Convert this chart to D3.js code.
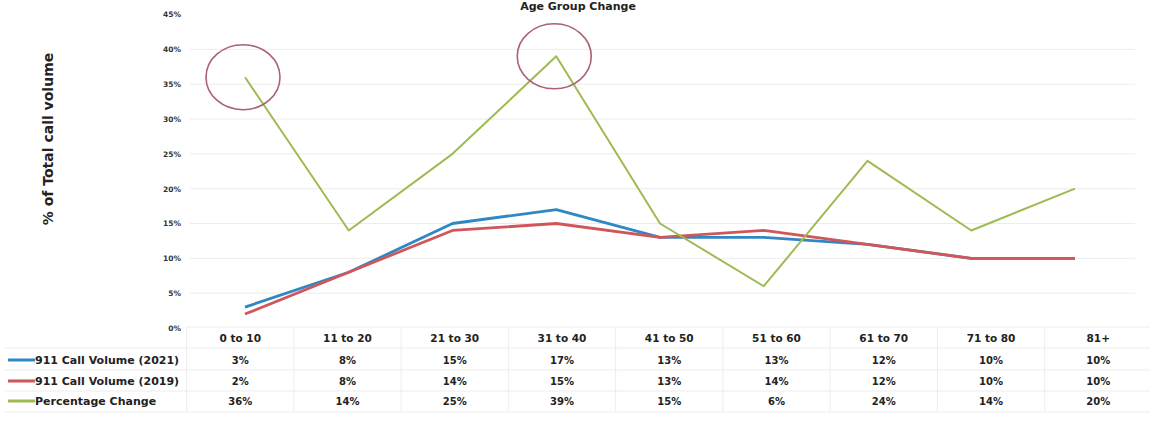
<!DOCTYPE html>
<html>
<head>
<meta charset="utf-8">
<script src="https://cdn.jsdelivr.net/npm/d3@7"></script>
<style>
  html, body { margin: 0; padding: 0; background: #fff; }
  svg { display: block; }
  text { font-family: "DejaVu Sans", "Liberation Sans", Arial, sans-serif; font-weight: bold; }
</style>
</head>
<body>
<svg id="chart" width="1150" height="421"></svg>
<script>
// Age groups shown along the x axis and in the data table
const categories = ["0 to 10", "11 to 20", "21 to 30", "31 to 40", "41 to 50", "51 to 60", "61 to 70", "71 to 80", "81+"];

// Share of total 911 call volume per age group (%)
const volume2021 = [3, 8, 15, 17, 13, 13, 12, 10, 10];
const volume2019 = [2, 8, 14, 15, 13, 14, 12, 10, 10];
const percentChange = [36, 14, 25, 39, 15, 6, 24, 14, 20];

const seriesNames = ["911 Call Volume (2021)", "911 Call Volume (2019)", "Percentage Change"];
const yTicks = [0, 5, 10, 15, 20, 25, 30, 35, 40, 45];

// Age groups singled out with a circle
const highlighted = ["0 to 10", "31 to 40"];

const colors = ["#2f87c4", "#d0565a", "#9dbb52"];
const series = [volume2021, volume2019, percentChange];

const svg = d3.select("#chart");

const x = d3.scalePoint().domain(categories).range([245, 1075]);
const y = d3.scaleLinear().domain([0, 45]).range([328, 14.5]);

// Title along the top edge
svg.append("text")
  .attr("x", 578).attr("y", 10)
  .attr("text-anchor", "middle")
  .attr("font-size", 11)
  .attr("fill", "#222")
  .text("Age Group Change");

// Horizontal gridlines
svg.append("g")
  .selectAll("line")
  .data(yTicks.filter(d => d > 0 && d < 45))
  .join("line")
  .attr("x1", 190).attr("x2", 1135)
  .attr("y1", d => y(d)).attr("y2", d => y(d))
  .attr("stroke", "#ececec").attr("stroke-width", 1);

// Y axis tick labels
const yAxis = d3.axisLeft(y).tickValues(yTicks).tickFormat(d => d + "%").tickSize(0).tickPadding(0);
const yg = svg.append("g").attr("transform", "translate(181,0)").call(yAxis);
yg.select(".domain").remove();
yg.selectAll("text")
  .attr("font-size", 7.5)
  .attr("fill", "#333")
  .style("font-family", "'DejaVu Sans', Arial, sans-serif")
  .style("font-weight", "bold");

// Y axis title
svg.append("text")
  .attr("transform", "translate(53,139) rotate(-90)")
  .attr("text-anchor", "middle")
  .attr("font-size", 14)
  .attr("fill", "#222")
  .text("% of Total call volume");

// Series lines
const line = d3.line()
  .x((d, i) => x(categories[i]))
  .y(d => y(d));

svg.append("g")
  .selectAll("path")
  .data(series)
  .join("path")
  .attr("d", d => line(d))
  .attr("fill", "none")
  .attr("stroke", (d, i) => colors[i])
  .attr("stroke-width", (d, i) => i === 2 ? 2 : 2.8)
  .attr("stroke-linejoin", "round");

// Highlight circles around the first two peaks of the change series
svg.append("g")
  .selectAll("ellipse")
  .data(highlighted)
  .join("ellipse")
  .attr("cx", d => x(d) - 2)
  .attr("cy", d => y(percentChange[categories.indexOf(d)]))
  .attr("rx", 37)
  .attr("ry", 32.5)
  .attr("fill", "none")
  .attr("stroke", "#a9626f")
  .attr("stroke-width", 1.6);

// Data table below the plot
const col = d3.scaleBand().domain(categories).range([186.6, 1151.9]);
const rowY = [338, 360, 381, 401];
const table = svg.append("g");

// Faint table grid
const hLines = [327, 348, 370, 391, 412];
table.selectAll("line.h")
  .data(hLines)
  .join("line")
  .attr("class", "h")
  .attr("x1", d => d === 327 ? 186 : 5).attr("x2", 1150)
  .attr("y1", d => d).attr("y2", d => d)
  .attr("stroke", "#ededed");
table.selectAll("line.v")
  .data(categories)
  .join("line")
  .attr("class", "v")
  .attr("x1", d => col(d)).attr("x2", d => col(d))
  .attr("y1", 327).attr("y2", 412)
  .attr("stroke", "#ededed");

// Category header row
table.selectAll("text.cat")
  .data(categories)
  .join("text")
  .attr("class", "cat")
  .attr("x", d => col(d) + col.bandwidth() / 2)
  .attr("y", rowY[0])
  .attr("dy", "0.35em")
  .attr("text-anchor", "middle")
  .attr("font-size", 10.5)
  .attr("fill", "#222")
  .text(d => d);

// Value rows
series.forEach((vals, r) => {
  table.selectAll("text.r" + r)
    .data(vals)
    .join("text")
    .attr("class", "r" + r)
    .attr("x", (d, i) => col(categories[i]) + col.bandwidth() / 2)
    .attr("y", rowY[r + 1])
    .attr("dy", "0.35em")
    .attr("text-anchor", "middle")
    .attr("font-size", 10)
    .attr("fill", "#222")
    .text(d => d + "%");

  // Legend key and series name
  table.append("line")
    .attr("x1", 8).attr("x2", 35)
    .attr("y1", rowY[r + 1]).attr("y2", rowY[r + 1])
    .attr("stroke", colors[r]).attr("stroke-width", 3);
  table.append("text")
    .attr("x", 35).attr("y", rowY[r + 1])
    .attr("dy", "0.35em")
    .attr("font-size", 11)
    .attr("fill", "#222")
    .text(seriesNames[r]);
});
</script>
</body>
</html>
